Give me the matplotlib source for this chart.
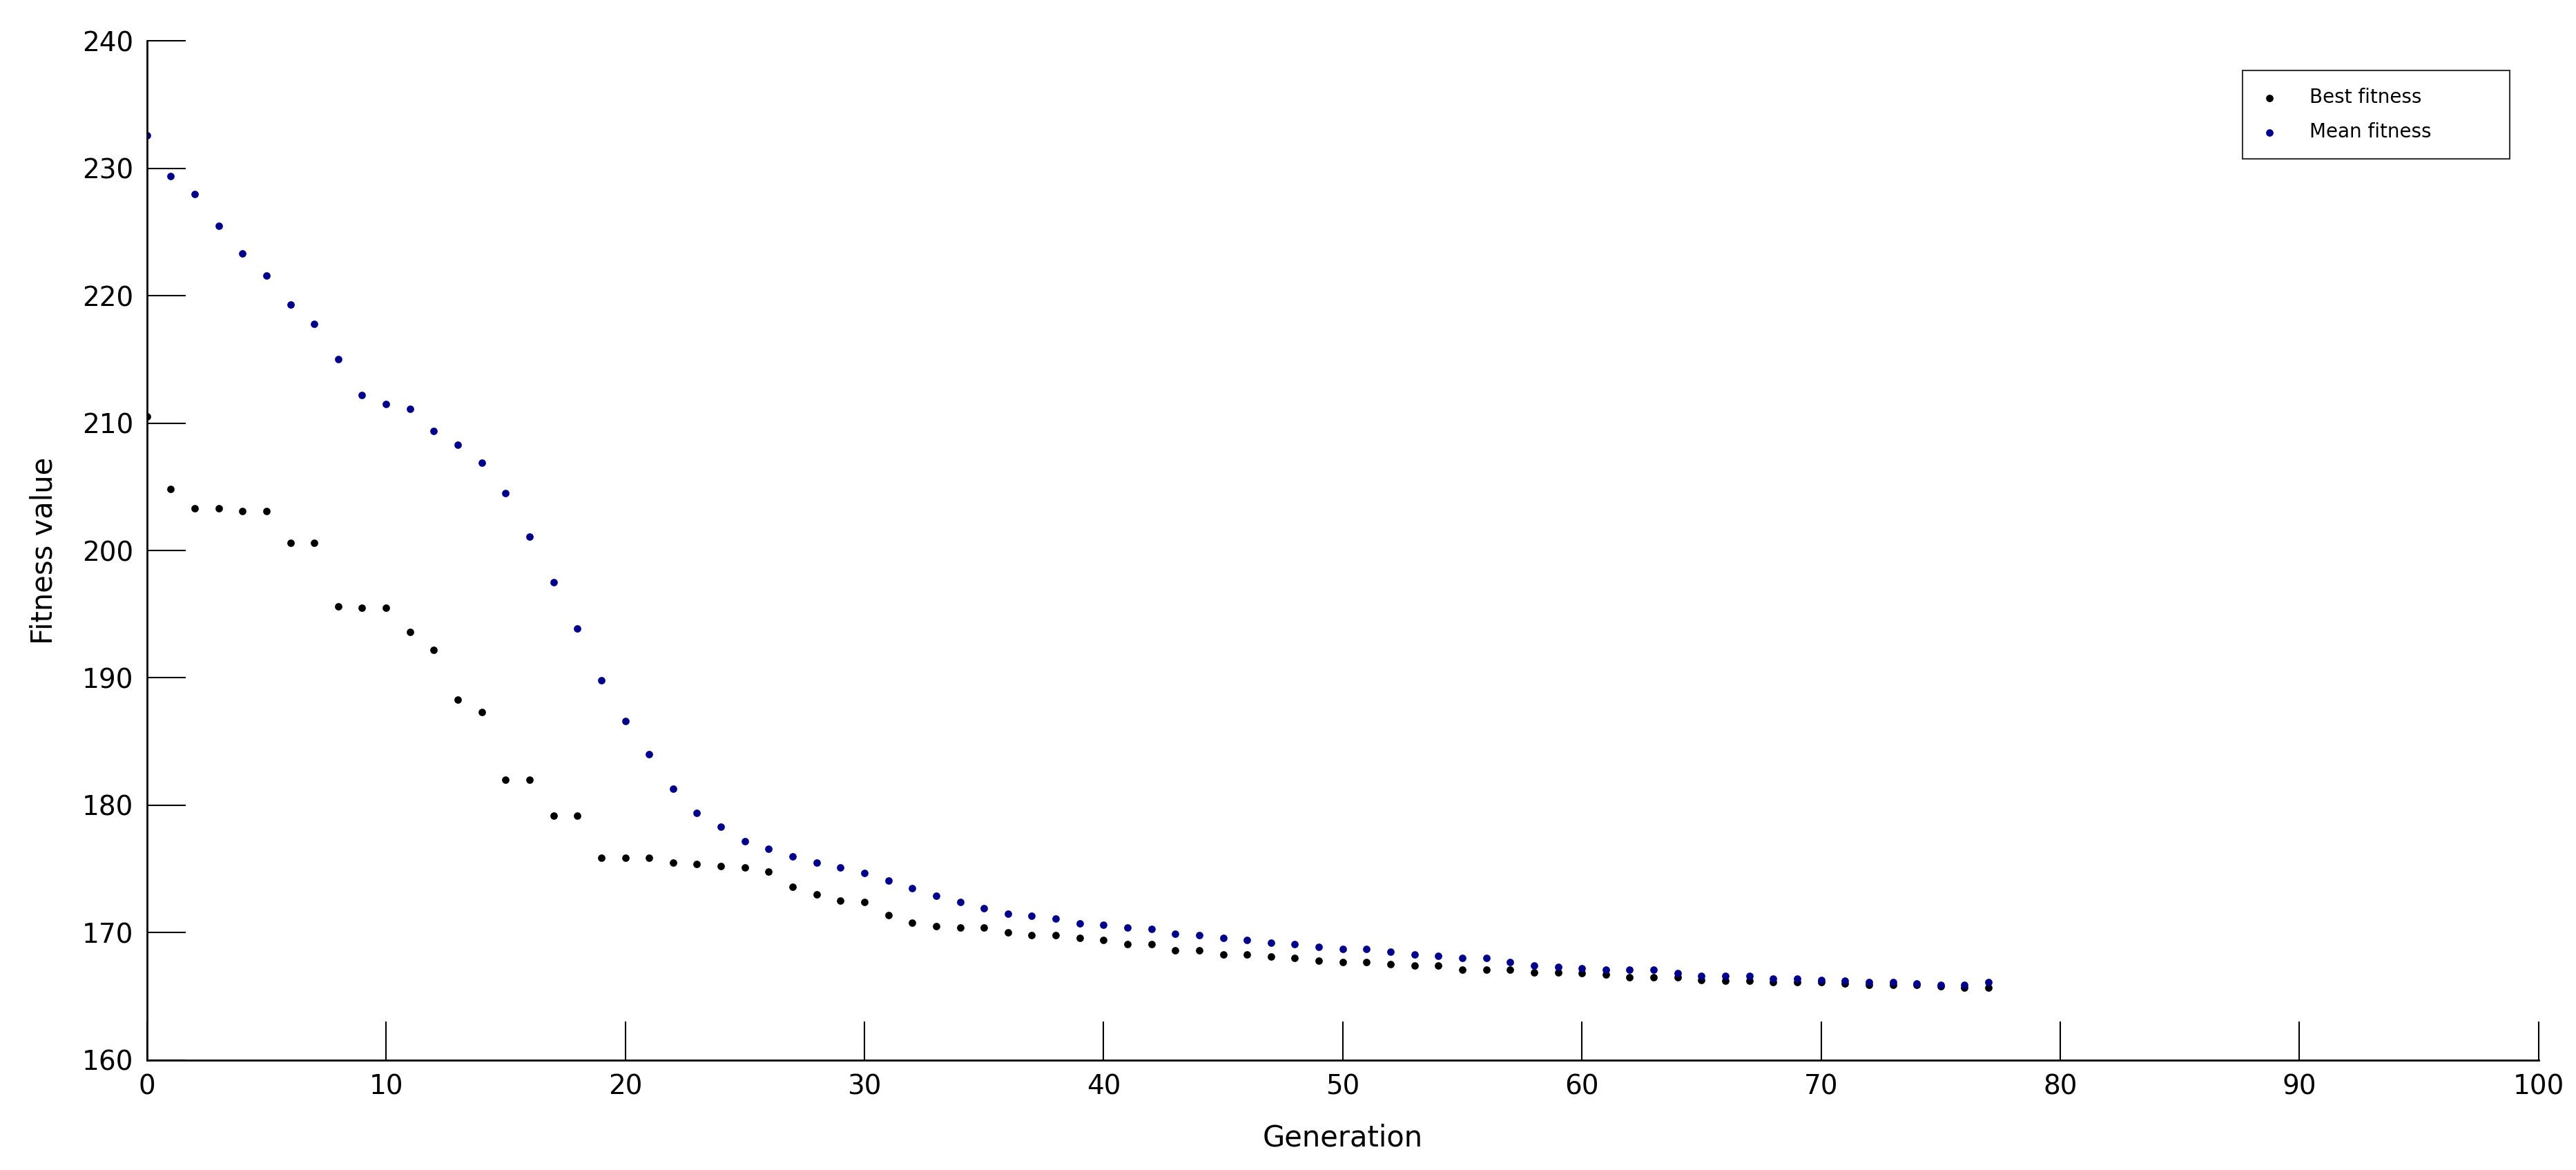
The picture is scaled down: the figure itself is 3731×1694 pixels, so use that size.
import numpy as np
from matplotlib import pyplot as plt

generation = np.arange(78)
best_fitness = [210.5, 204.8, 203.3, 203.3, 203.1, 203.1, 200.6, 200.6, 195.6, 195.5,
                195.5, 193.6, 192.2, 188.3, 187.3, 182.0, 182.0, 179.2, 179.2, 175.9,
                175.9, 175.9, 175.5, 175.4, 175.2, 175.1, 174.8, 173.6, 173.0, 172.5,
                172.4, 171.4, 170.8, 170.5, 170.4, 170.4, 170.0, 169.8, 169.8, 169.6,
                169.4, 169.1, 169.1, 168.6, 168.6, 168.3, 168.3, 168.1, 168.0, 167.8,
                167.7, 167.7, 167.5, 167.4, 167.4, 167.1, 167.1, 167.1, 166.9, 166.9,
                166.8, 166.7, 166.5, 166.5, 166.5, 166.3, 166.2, 166.2, 166.1, 166.1,
                166.1, 166.0, 165.9, 165.9, 165.9, 165.8, 165.7, 165.7]
mean_fitness = [232.6, 229.4, 228.0, 225.5, 223.3, 221.6, 219.3, 217.8, 215.0, 212.2,
                211.5, 211.1, 209.4, 208.3, 206.9, 204.5, 201.1, 197.5, 193.9, 189.8,
                186.6, 184.0, 181.3, 179.4, 178.3, 177.2, 176.6, 176.0, 175.5, 175.1,
                174.7, 174.1, 173.5, 172.9, 172.4, 171.9, 171.5, 171.3, 171.1, 170.7,
                170.6, 170.4, 170.3, 169.9, 169.8, 169.6, 169.4, 169.2, 169.1, 168.9,
                168.7, 168.7, 168.5, 168.3, 168.2, 168.0, 168.0, 167.7, 167.4, 167.3,
                167.2, 167.1, 167.1, 167.1, 166.8, 166.6, 166.6, 166.6, 166.4, 166.4,
                166.3, 166.2, 166.1, 166.1, 166.0, 165.9, 165.9, 166.1]

fig = plt.figure(figsize=(37.31, 16.94), dpi=100)
ax = fig.add_axes([0.057, 0.094, 0.9285, 0.871])
ax.scatter(generation, best_fitness, s=60, c='black', lw=0, label='Best fitness')
ax.scatter(generation, mean_fitness, s=60, c='#00008b', lw=0, label='Mean fitness')

ax.set_xlim(0, 100)
ax.set_ylim(160, 240)
ax.set_xticks(range(0, 101, 10))
ax.set_yticks(range(160, 241, 10))
ax.spines['top'].set_visible(False)
ax.spines['right'].set_visible(False)
ax.spines['left'].set_linewidth(2)
ax.spines['bottom'].set_linewidth(2)
ax.tick_params(direction='in', length=40, width=1.5, labelsize=28, pad=14,
               top=False, right=False)
ax.set_xlabel('Generation', fontsize=30, labelpad=25)
ax.set_ylabel('Fitness value', fontsize=30, labelpad=25)

leg = ax.legend(loc='upper right', bbox_to_anchor=(0.988, 0.971), fontsize=20,
                fancybox=False, frameon=True, scatterpoints=1, borderpad=0.9,
                labelspacing=0.8, handlelength=1.0, handletextpad=1.6,
                borderaxespad=0)
leg.get_frame().set_edgecolor('black')
leg.get_frame().set_linewidth(1.5)
for t in leg.get_texts():
    t.set_ha('left')
leg._legend_box.align = 'left'
# widen box a bit to match reference
leg.get_frame().set_boxstyle('square', pad=0)
for t in leg.get_texts():
    t.set_text(t.get_text() + '          ')

plt.savefig('out.png')
